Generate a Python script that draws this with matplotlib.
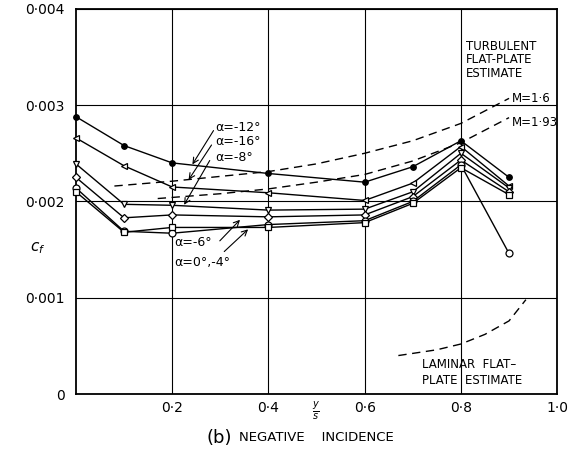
import matplotlib
matplotlib.use('Agg')
import matplotlib.pyplot as plt

# skin friction along the span, negative incidence
y_s = [0.0, 0.1, 0.2, 0.4, 0.6, 0.7, 0.8, 0.9]
cf_m12 = [2.88, 2.58, 2.40, 2.29, 2.20, 2.36, 2.63, 2.25]
cf_m16 = [2.66, 2.37, 2.15, 2.09, 2.01, 2.19, 2.57, 2.16]
cf_m8 = [2.39, 1.97, 1.96, 1.91, 1.92, 2.10, 2.50, 2.14]
cf_m6 = [2.25, 1.83, 1.86, 1.84, 1.86, 2.05, 2.43, 2.10]
cf_0 = [2.14, 1.69, 1.67, 1.76, 1.80, 2.00, 2.38, 1.46]
cf_m4 = [2.10, 1.68, 1.73, 1.73, 1.78, 1.98, 2.35, 2.07]

# flat plate estimates
turb_x_16 = [0.08, 0.2, 0.3, 0.4, 0.5, 0.6, 0.7, 0.8, 0.9]
turb_cf_16 = [2.16, 2.21, 2.26, 2.31, 2.39, 2.50, 2.63, 2.81, 3.07]
turb_x_193 = [0.17, 0.3, 0.4, 0.5, 0.6, 0.7, 0.8, 0.9]
turb_cf_193 = [2.03, 2.08, 2.13, 2.20, 2.28, 2.42, 2.61, 2.87]
lam_x = [0.67, 0.75, 0.8, 0.85, 0.9, 0.935]
lam_cf = [0.40, 0.46, 0.52, 0.62, 0.76, 0.98]

xticks = [0.2, 0.4, 0.6, 0.8, 1.0]
xlabels = ['0·2', '0·4', '0·6', '0·8', '1·0']
yticks = [0, 0.001, 0.002, 0.003, 0.004]
ylabels = ['0', '0·001', '0·002', '0·003', '0·004']

s = 1e-3
fig = plt.figure(figsize=(5.75, 4.62), dpi=100)
ax = fig.add_axes([0.132, 0.147, 0.837, 0.834])

ax.grid(color='k', linewidth=0.8)
ax.set_axisbelow(True)


def series(vals, marker, fill, size=5):
    ax.plot(y_s, [v * s for v in vals], color='k', lw=1.0, marker=marker,
            ms=size, mfc=fill, mec='k', mew=0.9, clip_on=False, zorder=3)


series(cf_m12, 'o', 'k', 4)
series(cf_m16, '<', 'white')
series(cf_m8, 'v', 'white')
series(cf_m6, 'D', 'white', 4.5)
series(cf_0, 'o', 'white')
series(cf_m4, 's', 'white', 4.5)

ax.plot(turb_x_16, [v * s for v in turb_cf_16], 'k', ls=(0, (6, 4)), lw=1.0)
ax.plot(turb_x_193, [v * s for v in turb_cf_193], 'k', ls=(0, (6, 4)), lw=1.0)
ax.plot(lam_x, [v * s for v in lam_cf], 'k', ls=(0, (6, 4)), lw=1.0)

ax.set_xlim(0, 1.0)
ax.set_ylim(0, 0.004)
ax.set_xticks(xticks)
ax.set_xticklabels(xlabels, fontsize=10)
ax.set_yticks(yticks)
ax.set_yticklabels(ylabels, fontsize=10)
ax.tick_params(axis='y', length=0, pad=8)
ax.tick_params(axis='x', length=0, pad=5)
for sp in ax.spines.values():
    sp.set_linewidth(1.3)

# labels and leaders
ax.text(0.81, 0.00368, 'TURBULENT\nFLAT-PLATE\nESTIMATE', fontsize=8.5, va='top', linespacing=1.05)
ax.text(0.905, 0.00307, 'M=1·6', fontsize=8.5, va='center')
ax.text(0.905, 0.00282, 'M=1·93', fontsize=8.5, va='center')
ax.text(0.72, 0.00022, 'LAMINAR  FLAT–\nPLATE  ESTIMATE', fontsize=8.5, va='center', linespacing=1.3)

ax.text(0.29, 0.00277, 'α=-12°', fontsize=9, va='center')
ax.text(0.29, 0.00262, 'α=-16°', fontsize=9, va='center')
ax.text(0.29, 0.00246, 'α=-8°', fontsize=9, va='center')
ax.text(0.205, 0.00157, 'α=-6°', fontsize=9, va='center')
ax.text(0.205, 0.00137, 'α=0°,-4°', fontsize=9, va='center')

arrow = dict(arrowstyle='->', color='k', lw=0.8)
ax.annotate('', xy=(0.239, 0.00236), xytext=(0.289, 0.00276), arrowprops=arrow)
ax.annotate('', xy=(0.231, 0.00220), xytext=(0.285, 0.00261), arrowprops=arrow)
ax.annotate('', xy=(0.222, 0.00194), xytext=(0.281, 0.00245), arrowprops=arrow)
ax.annotate('', xy=(0.345, 0.00183), xytext=(0.295, 0.00157), arrowprops=arrow)
ax.annotate('', xy=(0.362, 0.00173), xytext=(0.304, 0.00146), arrowprops=arrow)

ax.text(-0.08, 0.00152, '$c_f$', fontsize=11, ha='center', va='center')
ax.text(0.5, -0.00017, r'$\frac{y}{s}$', fontsize=10, ha='center', va='center')

fig.text(0.36, 0.052, '(b)', fontsize=13, ha='left', va='center')
fig.text(0.415, 0.052, 'NEGATIVE    INCIDENCE', fontsize=9.5, ha='left', va='center')

fig.savefig('out.png', dpi=100)
